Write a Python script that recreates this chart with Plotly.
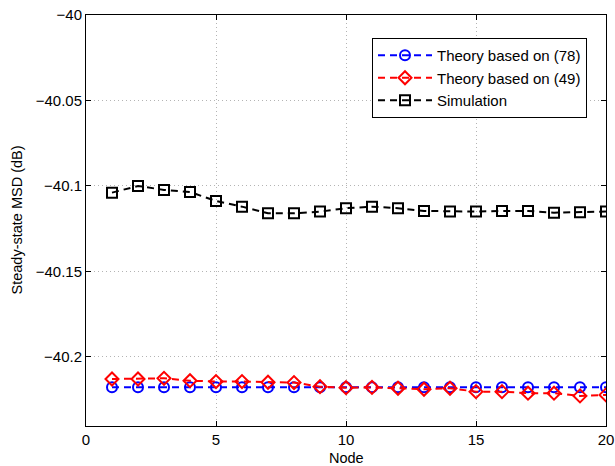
import plotly.graph_objects as go

nodes = list(range(1, 21))
theory78 = [-40.2177] * 20
theory49 = [-40.2129, -40.2129, -40.2125, -40.2139, -40.2144, -40.2144, -40.2148, -40.2150,
            -40.2174, -40.2180, -40.2178, -40.2183, -40.2189, -40.2183, -40.2203, -40.2203,
            -40.2212, -40.2212, -40.2228, -40.2222]
simulation = [-40.1039, -40.1000, -40.1023, -40.1035, -40.1088, -40.1121, -40.1160, -40.1160,
              -40.1150, -40.1130, -40.1121, -40.1130, -40.1146, -40.1150, -40.1150, -40.1146,
              -40.1146, -40.1156, -40.1154, -40.1150]

xticks = [0, 5, 10, 15, 20]
yticks = [-40, -40.05, -40.1, -40.15, -40.2]

font = "Liberation Sans, Arial, Helvetica, sans-serif"

fig = go.Figure()
series = [
    ("Theory based on (78)", theory78, "blue", "circle-open"),
    ("Theory based on (49)", theory49, "red", "diamond-open"),
    ("Simulation", simulation, "black", "square-open"),
]
for name, ys, color, sym in series:
    fig.add_trace(go.Scatter(
        x=nodes, y=ys, name=name, mode="lines+markers",
        line=dict(color=color, width=2, dash="7px,5px"),
        marker=dict(symbol=sym, size=10, color=color, line=dict(color=color, width=2)),
    ))

axis_common = dict(
    showline=True, linecolor="black", linewidth=1, mirror="ticks",
    ticks="inside", ticklen=5, tickcolor="black",
    showgrid=True, gridcolor="#b4b4b4", griddash="1px,3px", gridwidth=1,
    zeroline=False, automargin=False,
    tickfont=dict(family=font, size=15, color="black"),
)

fig.update_xaxes(range=[0, 20], tickvals=xticks, **axis_common)
fig.update_yaxes(range=[-40.2404, -40], tickvals=yticks, **axis_common)

fig.add_annotation(text="Node", x=0.5, y=0, xref="paper", yref="paper",
                   xanchor="center", yanchor="middle", yshift=-32, showarrow=False,
                   font=dict(family=font, size=14.5, color="black"))
fig.add_annotation(text="Steady-state MSD (dB)", x=0, y=0.5, xref="paper", yref="paper",
                   xanchor="center", yanchor="middle", xshift=-70, textangle=-90, showarrow=False,
                   font=dict(family=font, size=14.5, color="black"))

fig.update_layout(
    width=615, height=466,
    margin=dict(l=86, r=9, t=15, b=40),
    paper_bgcolor="white", plot_bgcolor="white",
    font=dict(family=font, size=15, color="black"),
    showlegend=True,
    legend=dict(x=0.55, y=0.944, xanchor="left", yanchor="top",
                bgcolor="white", bordercolor="black", borderwidth=1,
                font=dict(family=font, size=15, color="black"),
                itemwidth=54, tracegroupgap=0),
)

fig.write_html("out.html", config={"displayModeBar": False},
               post_script="document.body.style.margin='0';")
